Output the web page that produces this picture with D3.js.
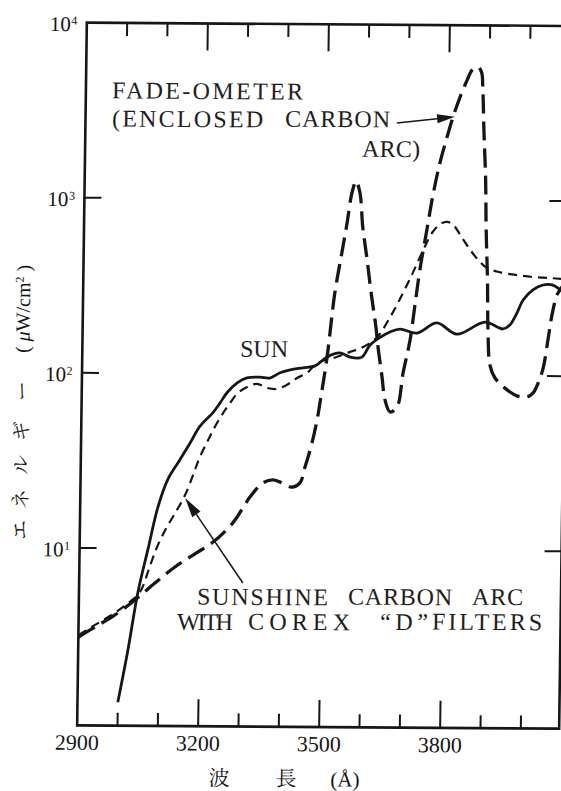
<!DOCTYPE html>
<html>
<head>
<meta charset="utf-8">
<script src="https://cdn.jsdelivr.net/npm/d3@7/dist/d3.min.js"></script>
<style>
  html, body { margin: 0; padding: 0; background: #fff; }
  svg { display: block; }
</style>
</head>
<body>
<svg id="chart" width="561" height="791"></svg>
<script>
// ---- data -------------------------------------------------------------
// wavelength (Å) and spectral energy (μW/cm²)
const sunWave = [3000,3023,3046,3070,3093,3117,3145,3170,3194,3226,3243,3260,3285,3309,3341,3366,3391,3416,3448,3478,3507,3539,3564,3593,3613,3638,3662,3687,3729,3778,3828,3897,3942,3959,3976,3991,4015,4040,4064,4084,4095];
const sunEnergy = [1.32,2.6,5.6,10,17.3,25,32,40,50,60,68,78,89,95,96,95,102,106,109,112,126,133,126,126,148,164,176,183,174,199,172,202,185,195,228,271,310,331,331,310,298];

const fadeWave = [2900,2941,2990,3039,3088,3137,3189,3230,3279,3321,3352,3377,3395,3424,3444,3456,3470,3483,3492,3507,3524,3540,3552,3563,3573,3583,3591,3603,3614,3627,3633,3644,3652,3665,3682,3696,3712,3723,3734,3750,3764,3780,3797,3811,3828,3845,3857,3870,3880,3884,3888,3894,3897,3902,3905,3911,3924,3949,3979,4004,4019,4031,4043,4054,4063,4075,4087,4095];
const fadeEnergy = [3.1,3.54,4.16,5.07,6.35,7.85,9.44,10.9,14.1,19.9,23.9,24.9,24.2,22.7,24.0,29.6,38.5,52.8,71.6,126,292,495,734,1091,1276,1092,698,453,294,188,144,97,72,61.5,65.6,103,158,251,399,675,1071,1630,2300,2990,3900,4875,5560,5780,5420,4275,2530,1309,680,352,182,115,97,85,76.8,75.8,80,91,111,161,223,291,323,340];

const sunshineWave = [2900,2941,2985,3022,3051,3075,3092,3116,3140,3160,3179,3195,3215,3231,3251,3268,3287,3310,3334,3359,3384,3408,3433,3458,3482,3531,3564,3596,3630,3662,3693,3718,3742,3765,3785,3800,3815,3832,3856,3881,3900,3930,3972,4014,4056,4095];
const sunshineEnergy = [3.18,3.64,4.21,4.86,5.62,7.94,10.2,13.3,16.6,20.3,26.4,33.4,41.8,49.7,59.7,68.2,77.8,84.3,87.9,83.4,82.4,86.9,95.3,102,116,126,135,144,164,214,294,390,520,660,735,752,725,640,530,450,412,391,377,367,363,358];

// axis ticks
const xTickLabels = [2900, 3200, 3500, 3800];
const xMajorTicks = [3200, 3500, 3800];
const xMinorTicks = [3000, 3100, 3300, 3400, 3600, 3700, 3900, 4000];
const yTickValues = [10, 100, 1000];
const yLabelExponents = [1, 2, 3, 4];

// annotations: arrow tip / tail in data units
const fadeArrow = { tail: [3672, 2750], tip: [3816, 3000] };
const sunshineArrow = { tail: [3306, 6.4], tip: [3160, 19.5] };

// ---- layout -----------------------------------------------------------
const SERIF = "Liberation Serif";
const JP = "Noto Serif CJK JP";

const svg = d3.select("#chart");
svg.append("rect").attr("width", 561).attr("height", 791).attr("fill", "#fff");

// the printed plate sits very slightly sheared on the page
const g = svg.append("g")
  .attr("transform", "matrix(1,0.0069,-0.0138,1,5.175,-2.208)");

const x = d3.scaleLinear().domain([2900, 4095]).range([82, 564]);
const y = d3.scaleLog().domain([0.97, 10000]).range([727, 24.3]);
const [plotLeft, plotRight] = x.range();
const [plotBottom, plotTop] = y.range();
const ink = "#161616";

g.append("clipPath").attr("id", "plotClip")
  .append("rect").attr("x", plotLeft).attr("y", plotTop)
  .attr("width", plotRight - plotLeft).attr("height", plotBottom - plotTop);

// frame
g.append("rect")
  .attr("x", plotLeft).attr("y", plotTop)
  .attr("width", plotRight - plotLeft).attr("height", plotBottom - plotTop)
  .attr("fill", "none").attr("stroke", ink).attr("stroke-width", 2.6);

// x ticks, bottom and top, pointing inward
const xTicks = xMajorTicks.map(v => ({ v, len: 27 }))
  .concat(xMinorTicks.map(v => ({ v, len: 13 })));
g.selectAll(".xtb").data(xTicks).join("line")
  .attr("x1", d => x(d.v)).attr("x2", d => x(d.v))
  .attr("y1", plotBottom).attr("y2", d => plotBottom - d.len)
  .attr("stroke", ink).attr("stroke-width", 2);
g.selectAll(".xtt").data(xTicks).join("line")
  .attr("x1", d => x(d.v)).attr("x2", d => x(d.v))
  .attr("y1", plotTop).attr("y2", d => plotTop + d.len)
  .attr("stroke", ink).attr("stroke-width", 2);

// y ticks, left and right
g.selectAll(".ytl").data(yTickValues).join("line")
  .attr("x1", plotLeft).attr("x2", plotLeft + 17)
  .attr("y1", d => y(d)).attr("y2", d => y(d))
  .attr("stroke", ink).attr("stroke-width", 2);
g.selectAll(".ytr").data(yTickValues).join("line")
  .attr("x1", plotRight).attr("x2", plotRight - 17)
  .attr("y1", d => y(d)).attr("y2", d => y(d))
  .attr("stroke", ink).attr("stroke-width", 2);

// x tick labels
g.selectAll(".xl").data(xTickLabels).join("text")
  .attr("font-family", SERIF)
  .attr("x", d => x(d)).attr("y", plotBottom + 24.5)
  .attr("text-anchor", "middle")
  .attr("font-size", 22).attr("fill", ink)
  .text(d => d);

// y tick labels: 10^n
const yl = g.selectAll(".yl").data(yLabelExponents).join("g");
yl.append("text")
  .attr("font-family", SERIF).attr("fill", ink)
  .attr("x", 66).attr("y", d => y(Math.pow(10, d)) + 8.5)
  .attr("text-anchor", "end").attr("font-size", 21)
  .text("10");
yl.append("text")
  .attr("font-family", SERIF).attr("fill", ink)
  .attr("x", 66.5).attr("y", d => y(Math.pow(10, d)) + 2)
  .attr("font-size", 12)
  .text(d => d);

// axis titles
const xTitle = [["波", 224.6, JP], ["長", 291.6, JP], ["(Å)", 350.6, SERIF]];
g.selectAll(".xt").data(xTitle).join("text")
  .attr("font-family", d => d[2])
  .attr("x", d => d[1]).attr("y", 786.3)
  .attr("text-anchor", "middle").attr("font-size", 21).attr("fill", ink)
  .text(d => d[0]);

const yTitleKana = [["エ", 532], ["ネ", 501], ["ル", 467], ["ギ", 433], ["ー", 393]];
g.selectAll(".ytk").data(yTitleKana).join("text")
  .attr("font-family", JP)
  .attr("transform", d => `translate(22,${d[1]}) rotate(-90)`)
  .attr("text-anchor", "middle").attr("dy", "0.36em")
  .attr("font-size", 20).attr("fill", ink)
  .text(d => d[0]);
const unit = g.append("text").attr("font-family", SERIF)
  .attr("transform", "translate(22,311) rotate(-90)")
  .attr("text-anchor", "middle").attr("dy", "0.35em")
  .attr("font-size", 20).attr("fill", ink);
unit.append("tspan").text("( ");
unit.append("tspan").attr("font-style", "italic").text("μ");
unit.append("tspan").text("W/cm");
unit.append("tspan").attr("font-size", 12).attr("dy", "-0.55em").text("2");
unit.append("tspan").attr("dy", "0.33em").text(" )");

// ---- curves -----------------------------------------------------------
const line = d3.line()
  .x(d => x(d[0])).y(d => y(d[1]))
  .curve(d3.curveCatmullRom.alpha(0.5));
const plot = g.append("g").attr("clip-path", "url(#plotClip)");

plot.append("path")
  .datum(d3.zip(sunshineWave, sunshineEnergy))
  .attr("d", line).attr("fill", "none")
  .attr("stroke", ink).attr("stroke-width", 2.2)
  .attr("stroke-dasharray", "9,6");

plot.append("path")
  .datum(d3.zip(fadeWave, fadeEnergy))
  .attr("d", line).attr("fill", "none")
  .attr("stroke", ink).attr("stroke-width", 3.3)
  .attr("stroke-dasharray", "19,8");

plot.append("path")
  .datum(d3.zip(sunWave, sunEnergy))
  .attr("d", line).attr("fill", "none")
  .attr("stroke", ink).attr("stroke-width", 2.8)
  .attr("stroke-linejoin", "round");

// ---- annotations ------------------------------------------------------
function arrow(a, headLen, headW) {
  const t0 = [x(a.tail[0]), y(a.tail[1])];
  const t1 = [x(a.tip[0]), y(a.tip[1])];
  const dx = t1[0] - t0[0], dy = t1[1] - t0[1];
  const L = Math.hypot(dx, dy), ux = dx / L, uy = dy / L;
  const bx = t1[0] - ux * headLen, by = t1[1] - uy * headLen;
  g.append("line")
    .attr("x1", t0[0]).attr("y1", t0[1]).attr("x2", bx).attr("y2", by)
    .attr("stroke", ink).attr("stroke-width", 1.5);
  g.append("path")
    .attr("d", `M${t1[0]},${t1[1]}L${bx - uy * headW / 2},${by + ux * headW / 2}L${bx + uy * headW / 2},${by - ux * headW / 2}Z`)
    .attr("fill", ink);
}
arrow(fadeArrow, 18, 9);
arrow(sunshineArrow, 20, 10);

const labels = [
  ["FADE-OMETER", 108.2, 99.8, 191],
  ["(ENCLOSED", 108.6, 127.9, 151],
  ["CARBON", 281.6, 126.9, 105],
  ["ARC)", 359, 156.5, 58],
  ["SUN", 239.8, 357.4, 48],
  ["SUNSHINE", 200.2, 605.4, 131],
  ["CARBON", 351.2, 604.4, 104],
  ["ARC", 475.2, 603.8, 51],
  ["WITH", 180.5, 630.8, 56],
  ["COREX", 251.5, 630.1, 102],
  ["\u201CD\u201D", 383.5, 629.4, 48],
  ["FILTERS", 435.5, 628.8, 110]
];
g.selectAll(".ann").data(labels).join("text")
  .attr("font-family", SERIF)
  .attr("x", d => d[1]).attr("y", d => d[2])
  .attr("textLength", d => d[3]).attr("lengthAdjust", "spacing")
  .attr("font-size", 24).attr("fill", "#1e1e1e")
  .text(d => d[0]);
</script>
</body>
</html>
